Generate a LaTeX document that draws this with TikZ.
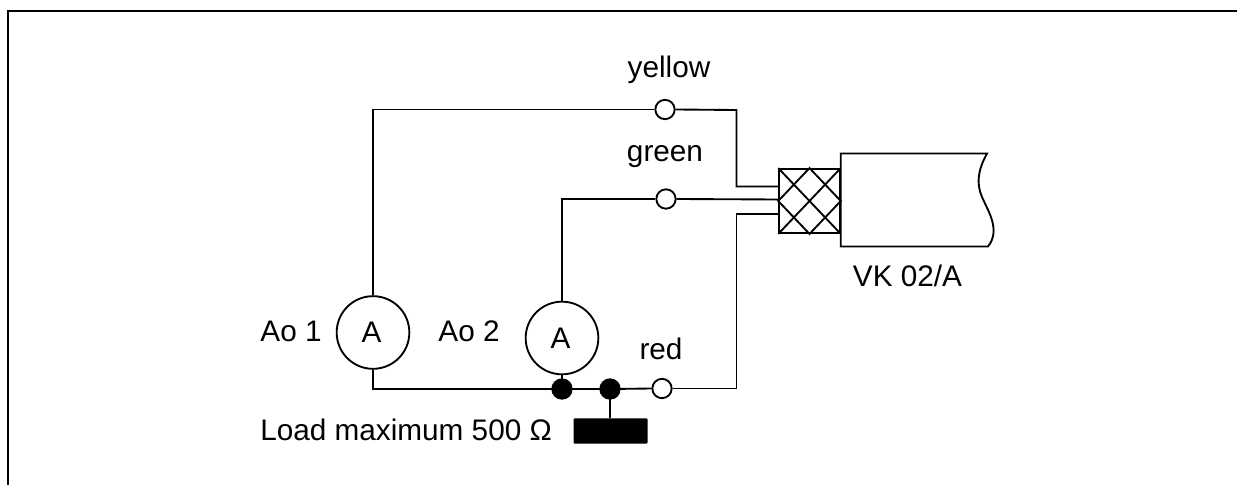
\documentclass[tikz,border=0pt]{standalone}
\usepackage{fontspec}
\setmainfont{Liberation Sans}
\usetikzlibrary{calc}
\tikzset{
  wire/.style={line width=1.4pt},
  label/.style={anchor=base,inner sep=0pt,font=\fontsize{22.3}{26}\selectfont},
  terminal/.style={circle,draw,fill=white,line width=1.4pt,minimum size=14.5pt,inner sep=0pt},
  junction/.style={circle,fill=black,minimum size=16pt,inner sep=0pt},
  meter/.style={circle,draw,line width=1.4pt,minimum size=54.5pt,inner sep=0pt},
  loadbox/.style={fill=black,rounded corners=0.8pt,minimum width=55.5pt,minimum height=19pt,inner sep=0pt},
  braidbox/.style={draw,line width=1.4pt,minimum width=45.5pt,minimum height=48pt,inner sep=0pt}
}
\begin{document}
\begin{tikzpicture}[x=0.75pt,y=-0.75pt]
\useasboundingbox (0,0) rectangle (1237,485);
\draw[line width=1.6pt] (8,485) -- (8,11) -- (1237,11);

\node[meter] (aoone) at (373,332.5) {};
\node[meter] (aotwo) at (562,338) {};
\node[terminal] (yellow) at (665,109.5) {};
\node[terminal] (green) at (666,199) {};
\node[terminal] (red) at (662,388.5) {};
\node[junction] (jone) at (562,389) {};
\node[junction] (jtwo) at (610,389) {};
\node[loadbox] (load) at (610.5,431) {};
\node[braidbox] (braid) at (809.5,201) {};
\coordinate (yellowin) at (779,186.5);
\coordinate (greenin) at (779,199.5);
\coordinate (redin) at (779,214);

\draw[wire] (aoone.north) |- (yellow.west);
\draw[wire] (aotwo.north) |- (green.west);
\draw[wire] (yellow.east) -- (736.5,110) -- (736.5,186.5) -- (yellowin);
\draw[wire] (green.east) -- (greenin);
\draw[wire] (red.east) -- (736.5,388.5) -- (736.5,214) -- (redin);
\draw[wire] (aoone.south) |- (jone.center) -- (jtwo.center) -- (red.west);
\draw[wire] (aotwo.south) -- (jone.center);
\draw[wire] (jtwo.center) -- (load.north -| jtwo.center);

\draw[wire] (braid.north west) -- (braid.south east);
\draw[wire] (braid.north east) -- (braid.south west);
\draw[wire] (braid.north) -- (braid.east) -- (braid.south) -- (braid.west) -- cycle;
\draw[wire] (braid.north east |- 0,153.5) -- (987,153.5)
  .. controls (978,170) and (976,183) .. (982,197)
  .. controls (988,211) and (1001,230) .. (988,246.5)
  -- (braid.north east |- 0,246.5) -- cycle;

\node[label] (yellowlabel) at (669,78) {yellow};
\node[label] (greenlabel) at (665,161) {green};
\node[label] (redlabel) at (661,359) {red};
\node[label] (cablelabel) at (907.5,286) {VK 02/A};
\node[label] (aoonelabel) at (291,341) {Ao 1};
\node[label] (aotwolabel) at (469,341) {Ao 2};
\node[label] (aoonea) at (371.5,342) {A};
\node[label] (aotwoa) at (560.5,348) {A};
\node[label,anchor=base west] (loadlabel) at (260,440) {Load maximum 500 Ω};
\end{tikzpicture}
\end{document}
